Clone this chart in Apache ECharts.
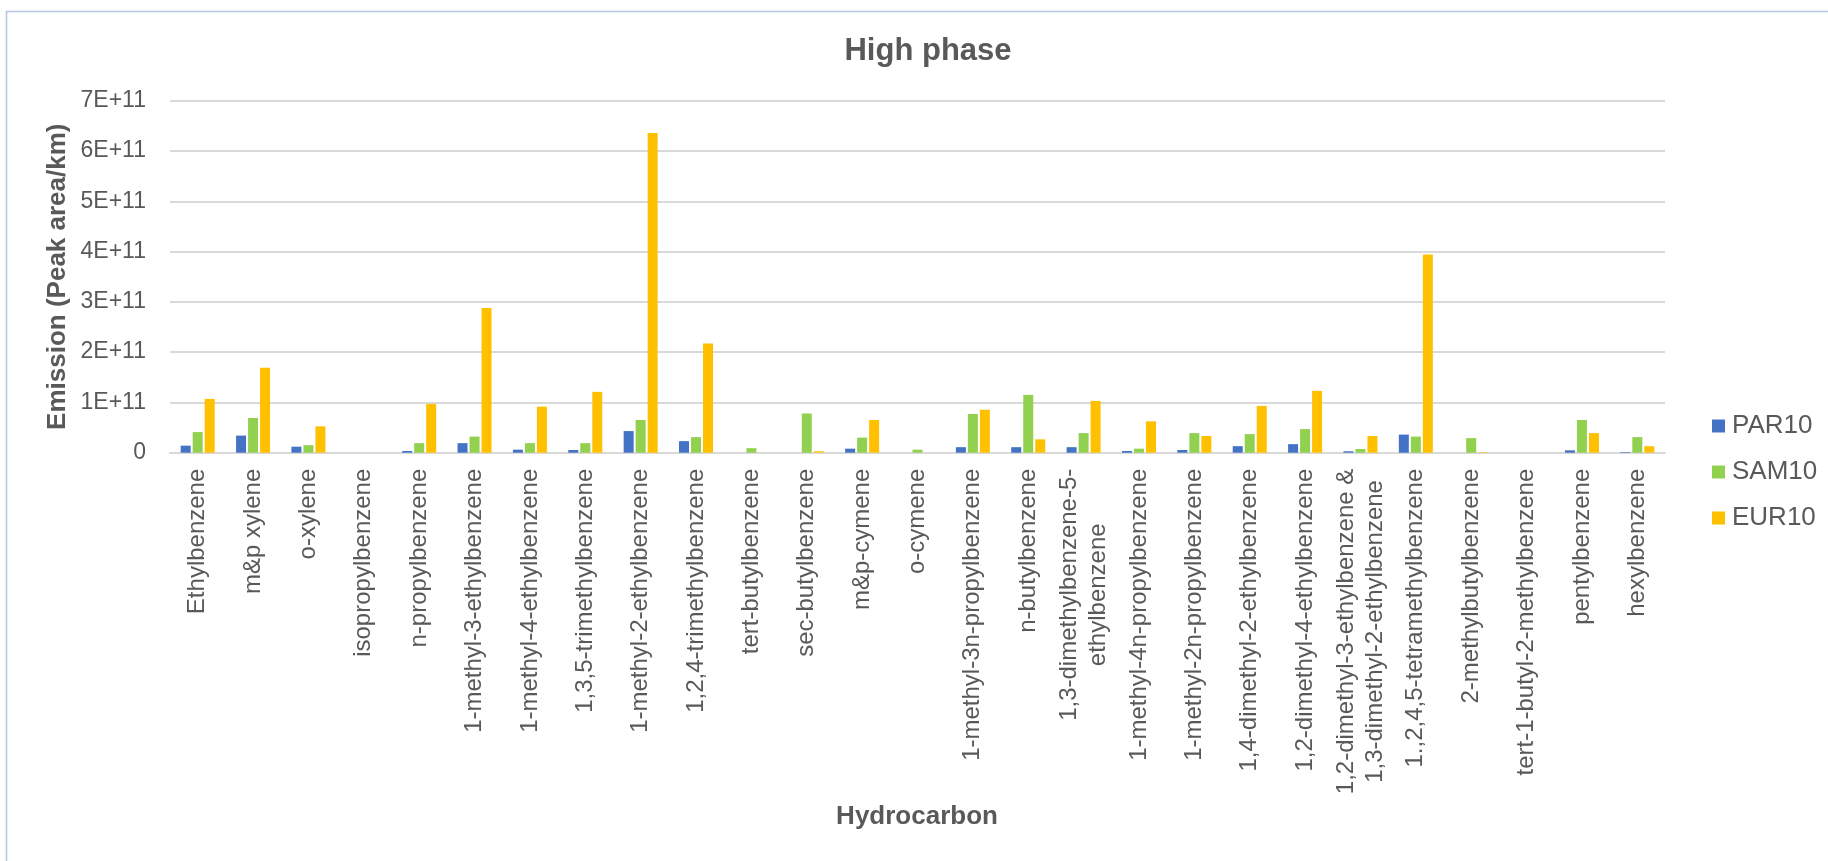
<!DOCTYPE html>
<html>
<head>
<meta charset="utf-8">
<title>High phase</title>
<script src="https://cdn.jsdelivr.net/npm/echarts@6/dist/echarts.min.js"></script>
<style>
  html, body { margin: 0; padding: 0; background: #ffffff; }
  #chart { width: 1828px; height: 861px; }
</style>
</head>
<body>
<div id="chart"></div>
<script>
// Hydrocarbon categories (x axis)
const categories = [
  'Ethylbenzene',
  'm&p xylene',
  'o-xylene',
  'isopropylbenzene',
  'n-propylbenzene',
  '1-methyl-3-ethylbenzene',
  '1-methyl-4-ethylbenzene',
  '1,3,5-trimethylbenzene',
  '1-methyl-2-ethylbenzene',
  '1,2,4-trimethylbenzene',
  'tert-butylbenzene',
  'sec-butylbenzene',
  'm&p-cymene',
  'o-cymene',
  '1-methyl-3n-propylbenzene',
  'n-butylbenzene',
  '1,3-dimethylbenzene-5-\nethylbenzene',
  '1-methyl-4n-propylbenzene',
  '1-methyl-2n-propylbenzene',
  '1,4-dimethyl-2-ethylbenzene',
  '1,2-dimethyl-4-ethylbenzene',
  '1,2-dimethyl-3-ethylbenzene &\n1,3-dimethyl-2-ethylbenzene',
  '1.,2,4,5-tetramethylbenzene',
  '2-methylbutylbenzene',
  'tert-1-butyl-2-methylbenzene',
  'pentylbenzene',
  'hexylbenzene'
];

// Emission (peak area/km) per series
const par10 = [
  1.4e10, 3.4e10, 1.2e10, 0, 0.34e10, 1.9e10, 0.6e10, 0.54e10, 4.3e10,
  2.3e10, 0, 0, 0.8e10, 0, 1.1e10, 1.1e10, 1.1e10, 0.34e10, 0.54e10,
  1.3e10, 1.7e10, 0.28e10, 3.6e10, 0, 0, 0.47e10, 0.12e10
];
const sam10 = [
  4.1e10, 6.9e10, 1.5e10, 0, 1.9e10, 3.2e10, 1.9e10, 1.9e10, 6.5e10,
  3.1e10, 0.9e10, 7.8e10, 3.0e10, 0.6e10, 7.7e10, 11.5e10, 3.9e10, 0.8e10,
  3.9e10, 3.7e10, 4.7e10, 0.74e10, 3.2e10, 2.9e10, 0, 6.5e10, 3.1e10
];
const eur10 = [
  10.7e10, 16.9e10, 5.25e10, 0, 9.7e10, 28.8e10, 9.15e10, 12.1e10, 63.6e10,
  21.7e10, 0, 0.28e10, 6.5e10, 0, 8.55e10, 2.66e10, 10.3e10, 6.24e10,
  3.32e10, 9.3e10, 12.3e10, 3.32e10, 39.4e10, 0.1e10, 0, 3.9e10, 1.3e10
];

const seriesNames = ['PAR10', 'SAM10', 'EUR10'];
const seriesColors = ['#4472C4', '#92D050', '#FFC000'];

// Value axis tick labels, one per 1E+11 step
const yTickLabels = ['0', '1E+11', '2E+11', '3E+11', '4E+11', '5E+11', '6E+11', '7E+11'];
const yStep = 1e11;

const FONT = '"Liberation Sans", Arial, sans-serif';
const TEXT = '#595959';

const chart = echarts.init(document.getElementById('chart'), null, { renderer: 'canvas' });

const seriesData = [par10, sam10, eur10];

chart.setOption({
  backgroundColor: '#ffffff',
  animation: false,
  textStyle: { fontFamily: FONT, color: TEXT },
  grid: { left: 170, right: 163, top: 100.7, bottom: 408.3, containLabel: false },
  legend: {
    data: seriesNames,
    orient: 'vertical',
    left: 1707,
    top: 408,
    itemWidth: 13,
    itemHeight: 13,
    itemGap: 20,
    icon: 'rect',
    textStyle: { fontFamily: FONT, fontSize: 26, lineHeight: 26, color: TEXT, padding: [0, 0, 0, 2] }
  },
  xAxis: {
    type: 'category',
    data: categories,
    axisLine: { show: true, lineStyle: { color: '#d9d9d9', width: 2 } },
    axisTick: { show: false },
    splitLine: { show: false },
    axisLabel: {
      interval: 0,
      rotate: 90,
      margin: 16,
      color: TEXT,
      fontFamily: FONT,
      fontSize: 24,
      formatter: function (v) {
        return v.split('\n').map(function (s) { return '{c|' + s + '}'; }).join('\n');
      },
      rich: {
        c: { align: 'center', fontFamily: FONT, fontSize: 24, lineHeight: 29, color: TEXT }
      }
    }
  },
  yAxis: {
    type: 'value',
    min: 0,
    max: yStep * (yTickLabels.length - 1),
    interval: yStep,
    axisLine: { show: false },
    axisTick: { show: false },
    splitLine: { show: true, lineStyle: { color: '#d9d9d9', width: 2 } },
    axisLabel: {
      margin: 24,
      color: TEXT,
      fontFamily: FONT,
      fontSize: 23,
      formatter: function (v) { return yTickLabels[Math.round(v / yStep)]; }
    }
  },
  series: seriesNames.map(function (name, i) {
    return {
      name: name,
      type: 'bar',
      data: seriesData[i],
      barWidth: 10,
      barGap: '20%',
      itemStyle: { color: seriesColors[i] }
    };
  }),
  graphic: [
    {
      type: 'rect',
      silent: true,
      shape: { x: 6.5, y: 11.5, width: 2000, height: 1000 },
      style: { fill: 'none', stroke: '#B4C7E7', lineWidth: 1.5 },
      z: -10
    },
    {
      type: 'text',
      x: 928, y: 51,
      style: {
        text: 'High phase', fill: TEXT, font: 'bold 31px ' + FONT,
        textAlign: 'center', textVerticalAlign: 'middle'
      }
    },
    {
      type: 'text',
      x: 917, y: 817,
      style: {
        text: 'Hydrocarbon', fill: TEXT, font: 'bold 26px ' + FONT,
        textAlign: 'center', textVerticalAlign: 'middle'
      }
    },
    {
      type: 'text',
      x: 57.5, y: 276.7,
      rotation: Math.PI / 2,
      style: {
        text: 'Emission (Peak area/km)', fill: TEXT, font: 'bold 26px ' + FONT,
        textAlign: 'center', textVerticalAlign: 'middle'
      }
    }
  ]
});
</script>
</body>
</html>
